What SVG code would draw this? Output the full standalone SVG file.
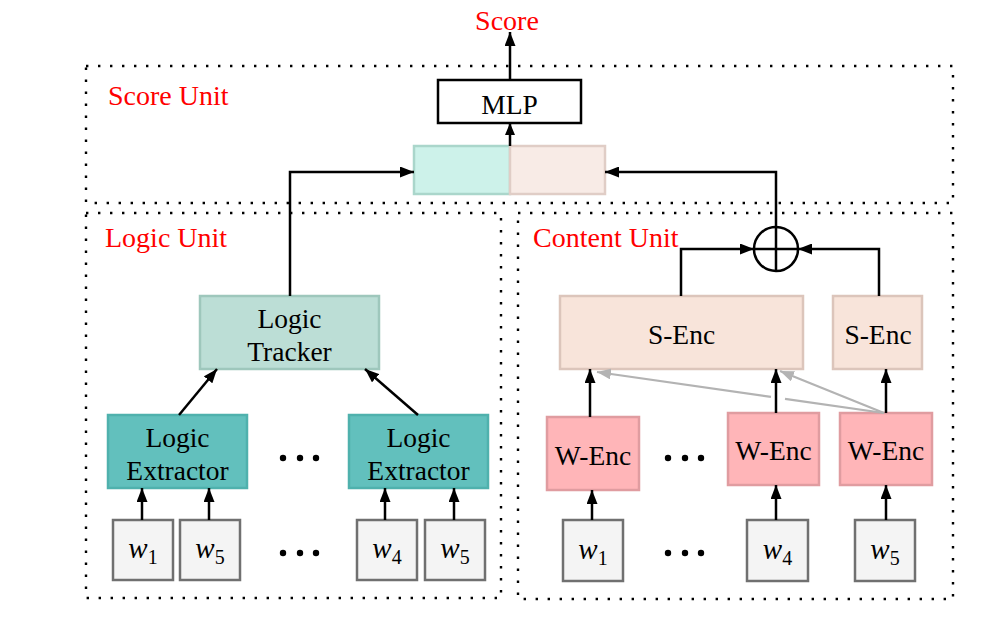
<svg xmlns="http://www.w3.org/2000/svg" width="997" height="627" viewBox="0 0 997 627">
<defs>
<marker id="ah" viewBox="0 0 14 11" refX="14" refY="5.5" markerWidth="14" markerHeight="11" markerUnits="userSpaceOnUse" orient="auto"><path d="M0,0 L14,5.5 L0,11 z" fill="#000"/></marker>
<marker id="ahs" viewBox="0 0 12 10" refX="12" refY="5" markerWidth="12" markerHeight="10" markerUnits="userSpaceOnUse" orient="auto"><path d="M0,0 L12,5 L0,10 z" fill="#000"/></marker>
<marker id="ahg" viewBox="0 0 14 11" refX="14" refY="5.5" markerWidth="14" markerHeight="11" markerUnits="userSpaceOnUse" orient="auto"><path d="M0,0 L14,5.5 L0,11 z" fill="#b3b3b3"/></marker>
</defs>
<style>
text{font-family:"Liberation Serif","Times New Roman",serif;fill:#000}
.lbl{fill:#ff0000;font-size:28px}
.nt{font-size:27.5px;text-anchor:middle}
.unit{fill:none;stroke:#000;stroke-width:2.4;stroke-dasharray:2.4 9.6}
.w{fill:#f4f4f4;stroke:#707070;stroke-width:2.5}
.wt{font-size:29px;text-anchor:middle}
.tr{fill:#bcded6;stroke:#9ec7bc;stroke-width:2.5}
.ex{fill:#62c0bd;stroke:#4fb1ad;stroke-width:2.5}
.se{fill:#f8e4da;stroke:#dcc5bb;stroke-width:2.5}
.we{fill:#ffb5b8;stroke:#e09ca0;stroke-width:2.5}
.c{fill:none;stroke:#000;stroke-width:2.5}
.a{fill:none;stroke:#000;stroke-width:2.5;marker-end:url(#ah)}
.g{fill:none;stroke:#b3b3b3;stroke-width:2.2}
.dot{fill:#000}
</style>
<rect width="997" height="627" fill="#fff"/>
<g id="units">
<rect id="score-unit" class="unit" x="86" y="66" width="867" height="137"/>
<rect id="logic-unit" class="unit" x="86" y="213" width="415" height="385"/>
<rect id="content-unit" class="unit" x="518" y="213" width="435" height="386"/>
<text class="lbl" x="108" y="105">Score Unit</text>
<text class="lbl" x="105" y="247">Logic Unit</text>
<text class="lbl" x="533" y="247">Content Unit</text>
<text class="lbl" x="507" y="30" text-anchor="middle">Score</text>
</g>
<g id="mlp"><rect x="438" y="80" width="143" height="43" fill="#fff" stroke="#000" stroke-width="2.5"/><text class="nt" x="509.5" y="114">MLP</text></g>
<g id="concat">
<rect x="414" y="146" width="96" height="48" fill="#cdf2ea" stroke="#aad6cb" stroke-width="2.5"/>
<rect x="510" y="146" width="95" height="48" fill="#f8ebe6" stroke="#e0cdc6" stroke-width="2.5"/>
</g>
<g id="logic-tracker"><rect class="tr" x="200" y="296" width="179" height="73"/><text class="nt" x="289.5" y="328">Logic</text><text class="nt" x="289.5" y="361">Tracker</text></g>
<g id="logic-extractor-1"><rect class="ex" x="108" y="415" width="139" height="73"/><text class="nt" x="177.5" y="447">Logic</text><text class="nt" x="177.5" y="480">Extractor</text></g>
<g id="logic-extractor-2"><rect class="ex" x="349" y="415" width="139" height="73"/><text class="nt" x="418.5" y="447">Logic</text><text class="nt" x="418.5" y="480">Extractor</text></g>
<g id="lw1"><rect class="w" x="113" y="520" width="60" height="60"/><text class="wt" x="143" y="558"><tspan font-style="italic">w</tspan><tspan font-size="20" dy="6">1</tspan></text></g>
<g id="lw5a"><rect class="w" x="180" y="520" width="60" height="60"/><text class="wt" x="210" y="558"><tspan font-style="italic">w</tspan><tspan font-size="20" dy="6">5</tspan></text></g>
<g id="lw4"><rect class="w" x="357" y="520" width="60" height="60"/><text class="wt" x="387" y="558"><tspan font-style="italic">w</tspan><tspan font-size="20" dy="6">4</tspan></text></g>
<g id="lw5b"><rect class="w" x="425" y="520" width="60" height="60"/><text class="wt" x="455" y="558"><tspan font-style="italic">w</tspan><tspan font-size="20" dy="6">5</tspan></text></g>
<g id="logic-dots">
<circle class="dot" cx="283" cy="458" r="3.2"/><circle class="dot" cx="300" cy="458" r="3.2"/><circle class="dot" cx="316" cy="458" r="3.2"/>
<circle class="dot" cx="283" cy="553" r="3.2"/><circle class="dot" cx="300" cy="553" r="3.2"/><circle class="dot" cx="316" cy="553" r="3.2"/>
</g>
<g id="s-enc-1"><rect class="se" x="560" y="296" width="243" height="73"/><text class="nt" x="681.5" y="344">S-Enc</text></g>
<g id="s-enc-2"><rect class="se" x="833" y="296" width="89" height="73"/><text class="nt" x="878" y="344">S-Enc</text></g>
<g id="w-enc-1"><rect class="we" x="547" y="417" width="92" height="73"/><text class="nt" x="593" y="465">W-Enc</text></g>
<g id="w-enc-2"><rect class="we" x="728" y="413" width="91" height="72"/><text class="nt" x="773.5" y="460">W-Enc</text></g>
<g id="w-enc-3"><rect class="we" x="840" y="413" width="92" height="72"/><text class="nt" x="886" y="460">W-Enc</text></g>
<g id="cw1"><rect class="w" x="563" y="520" width="60" height="61"/><text class="wt" x="593" y="559"><tspan font-style="italic">w</tspan><tspan font-size="20" dy="6">1</tspan></text></g>
<g id="cw4"><rect class="w" x="747" y="520" width="61" height="61"/><text class="wt" x="777.5" y="559"><tspan font-style="italic">w</tspan><tspan font-size="20" dy="6">4</tspan></text></g>
<g id="cw5"><rect class="w" x="855" y="520" width="60" height="61"/><text class="wt" x="885" y="559"><tspan font-style="italic">w</tspan><tspan font-size="20" dy="6">5</tspan></text></g>
<g id="content-dots">
<circle class="dot" cx="668" cy="458" r="3.2"/><circle class="dot" cx="685" cy="458" r="3.2"/><circle class="dot" cx="701" cy="458" r="3.2"/>
<circle class="dot" cx="668" cy="553" r="3.2"/><circle class="dot" cx="685" cy="553" r="3.2"/><circle class="dot" cx="701" cy="553" r="3.2"/>
</g>
<g id="sum"><circle class="c" cx="776" cy="249" r="22"/><path class="c" d="M754,249 H798 M776,227 V271"/></g>
<g id="connectors">
<path class="a" d="M510,80 V32"/>
<path class="c" d="M510,146 V123" marker-end="url(#ahs)"/>
<path class="a" d="M290,296 V172 H414"/>
<path class="a" d="M776,227 V172 H605"/>
<path class="a" d="M681,296 V249 H754"/>
<path class="a" d="M879,296 V249 H798"/>
<path class="a" d="M179,415 L217,369"/>
<path class="a" d="M418,415 L365,369"/>
<path class="a" d="M142,520 V488"/>
<path class="a" d="M209,520 V488"/>
<path class="a" d="M385,520 V488"/>
<path class="a" d="M454,520 V488"/>
<path class="g" d="M884,413 L785,398.9"/>
<path class="g" d="M771,396.9 L597,372" marker-end="url(#ahg)"/>
<path class="g" d="M884,413 L780,371" marker-end="url(#ahg)"/>
<path class="a" d="M590,417 V369"/>
<path class="a" d="M776,413 V369"/>
<path class="a" d="M886,413 V369"/>
<path class="a" d="M592,520 V490"/>
<path class="a" d="M776,520 V485"/>
<path class="a" d="M886,520 V485"/>
</g>
</svg>
